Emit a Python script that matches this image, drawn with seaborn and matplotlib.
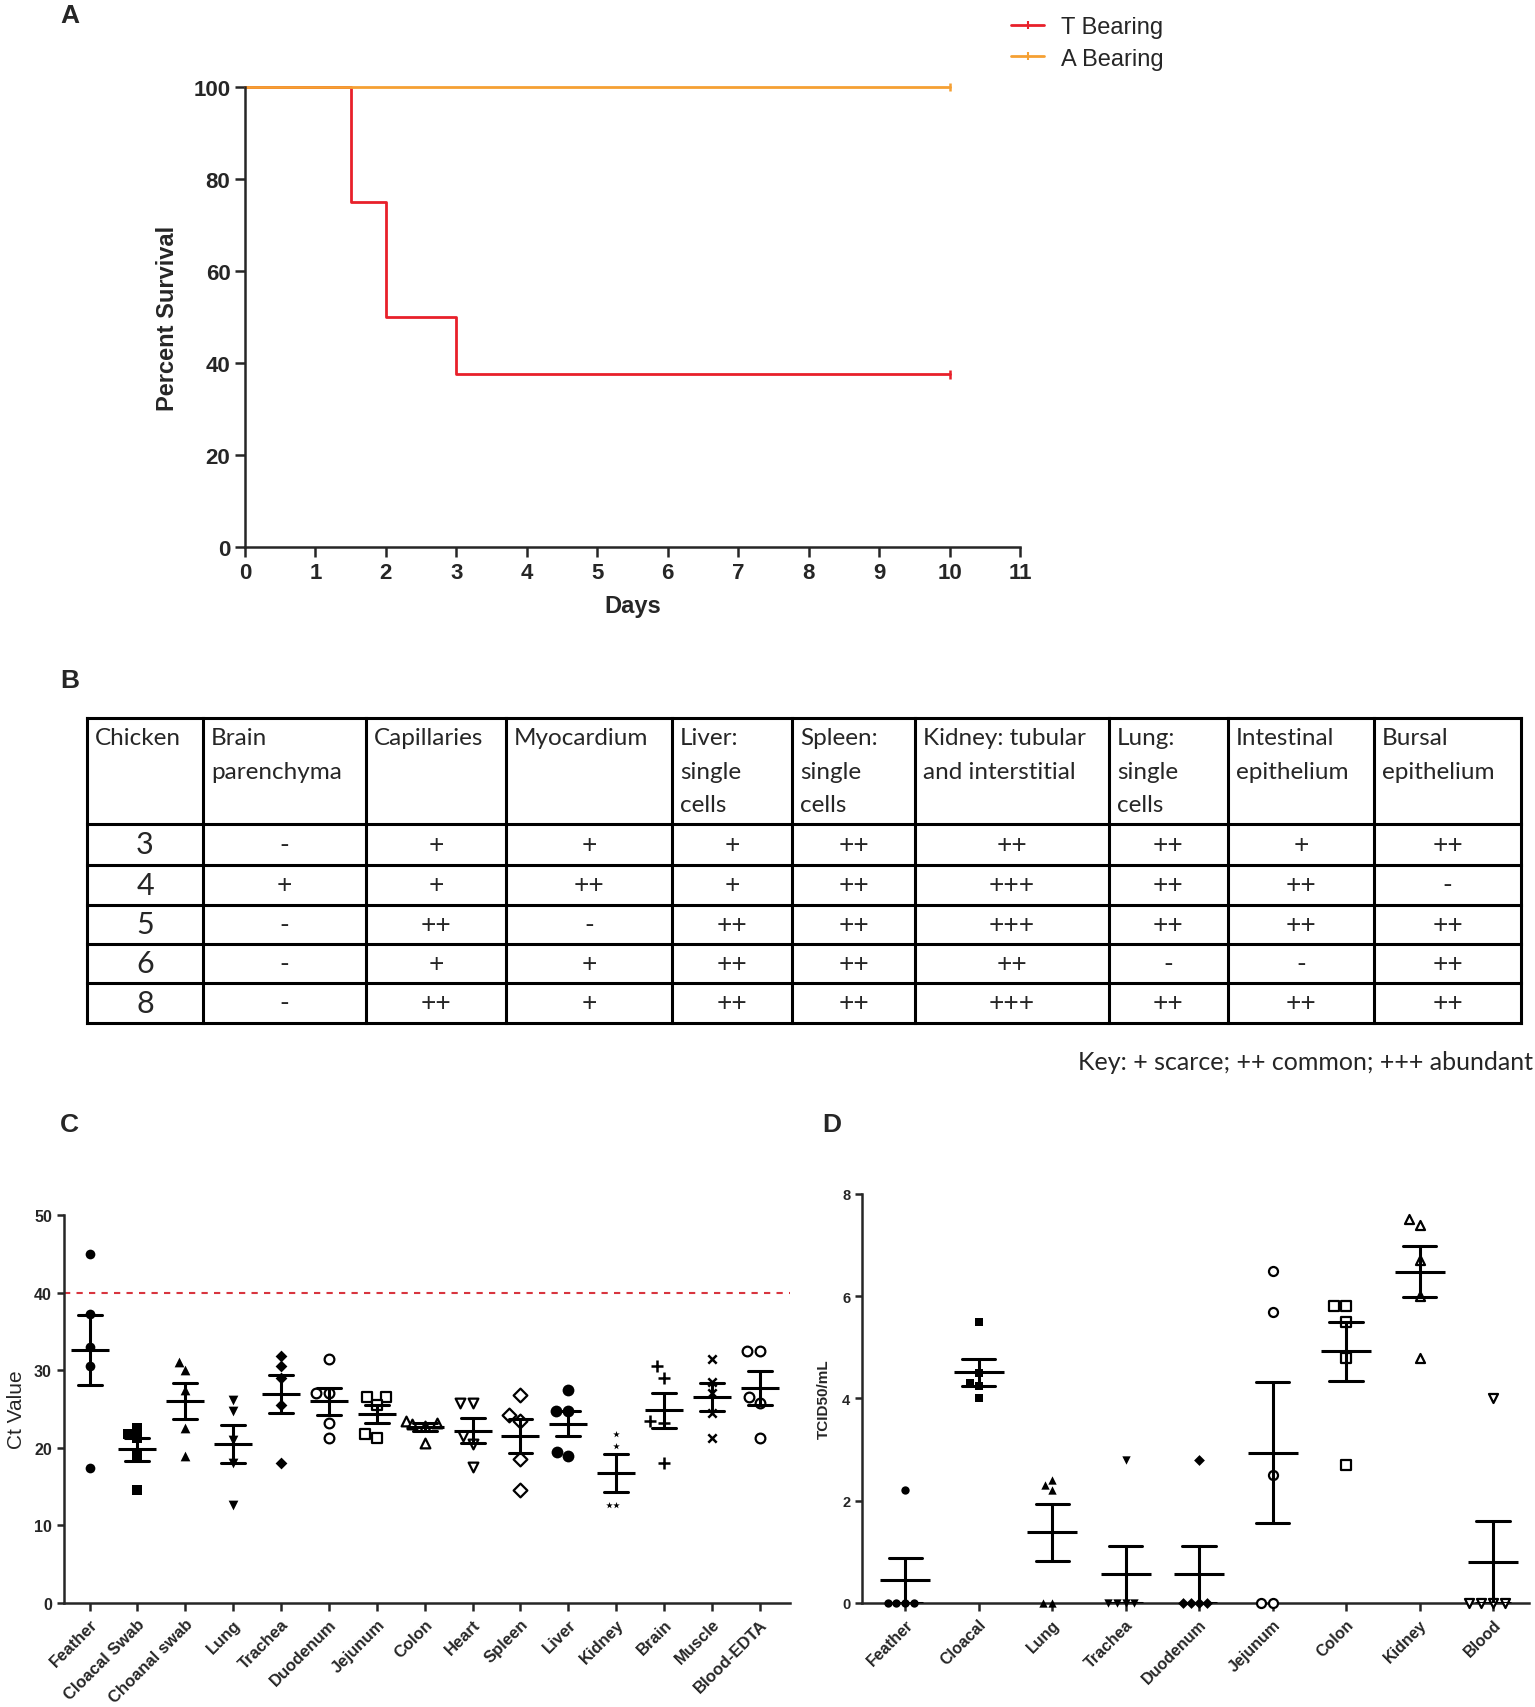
import matplotlib
matplotlib.use("Agg")
import matplotlib.pyplot as plt
from matplotlib.lines import Line2D
import seaborn as sns
import pandas as pd

# ---- Panel A: survival ----
t_days = [0, 1.5, 2, 3, 10]
t_surv = [100, 75, 50, 37.5, 37.5]
a_days = [0, 10]
a_surv = [100, 100]

# ---- Panel B: histology table ----
table_header = ["Chicken", "Brain\nparenchyma", "Capillaries", "Myocardium",
                "Liver:\nsingle\ncells", "Spleen:\nsingle\ncells",
                "Kidney: tubular\nand interstitial", "Lung:\nsingle\ncells",
                "Intestinal\nepithelium", "Bursal\nepithelium"]
chickens = ["3", "4", "5", "6", "8"]
table_rows = [
    ["-", "+", "+", "+", "++", "++", "++", "+", "++"],
    ["+", "+", "++", "+", "++", "+++", "++", "++", "-"],
    ["-", "++", "-", "++", "++", "+++", "++", "++", "++"],
    ["-", "+", "+", "++", "++", "++", "-", "-", "++"],
    ["-", "++", "+", "++", "++", "+++", "++", "++", "++"],
]

# ---- Panel C: Ct values ----
tissues_c = ["Feather", "Cloacal Swab", "Choanal swab", "Lung", "Trachea", "Duodenum",
             "Jejunum", "Colon", "Heart", "Spleen", "Liver", "Kidney", "Brain",
             "Muscle", "Blood-EDTA"]
ct_values = [
    [45.0, 37.2, 33.0, 30.5, 17.4],
    [22.5, 21.8, 21.2, 19.0, 14.5],
    [31.0, 30.0, 27.5, 22.5, 19.0],
    [26.2, 24.8, 21.0, 18.0, 12.6],
    [31.8, 30.5, 29.0, 25.5, 18.0],
    [31.5, 27.0, 27.0, 23.2, 21.2],
    [26.5, 26.5, 25.5, 21.8, 21.2],
    [23.5, 23.2, 23.0, 22.8, 20.6],
    [25.8, 25.8, 21.5, 20.5, 17.5],
    [26.8, 24.2, 23.5, 18.5, 14.6],
    [27.5, 24.8, 24.8, 19.5, 19.0],
    [21.8, 20.2, 12.6, 12.6],
    [30.5, 29.0, 23.5, 23.2, 18.0],
    [31.5, 28.5, 27.0, 24.5, 21.2],
    [32.5, 32.5, 26.5, 25.8, 21.2],
]
ct_cutoff = 40

# ---- Panel D: TCID50 ----
tissues_d = ["Feather", "Cloacal", "Lung", "Trachea", "Duodenum", "Jejunum",
             "Colon", "Kidney", "Blood"]
tcid_values = [
    [2.2, 0, 0, 0, 0],
    [5.5, 4.5, 4.3, 4.25, 4.0],
    [2.4, 2.3, 2.2, 0, 0],
    [2.8, 0, 0, 0, 0],
    [2.8, 0, 0, 0, 0],
    [6.5, 5.7, 2.5, 0, 0],
    [5.8, 5.8, 5.5, 4.8, 2.7],
    [7.5, 7.4, 6.7, 6.0, 4.8],
    [4.0, 0, 0, 0, 0],
]

# marker styles: (marker, filled, size)
markers_c = [("o", True, 7), ("s", True, 7), ("^", True, 7), ("v", True, 7),
             ("D", True, 6), ("o", False, 7), ("s", False, 7), ("^", False, 7),
             ("v", False, 7), ("D", False, 7), ("o", True, 8.5), ("*", True, 5),
             ("+", True, 8), ("x", True, 6), ("o", False, 7)]
markers_d = [("o", True, 6), ("s", True, 6), ("^", True, 6), ("v", True, 6),
             ("D", True, 5.5), ("o", False, 6.5), ("s", False, 6.5), ("^", False, 6.5),
             ("v", False, 6.5)]

sns.set_theme(style="ticks")
plt.rcParams["font.family"] = ["Liberation Sans", "DejaVu Sans"]

fig = plt.figure(figsize=(15.35, 17.08), dpi=100)

# full-figure overlay in pixel coordinates for table and labels
ax_bg = fig.add_axes([0, 0, 1, 1], zorder=0)
ax_bg.set_xlim(0, 1535)
ax_bg.set_ylim(1708, 0)
ax_bg.axis("off")
ax_bg.patch.set_alpha(0)

# ---------- A ----------
ax_a = fig.add_axes([0.1596, 0.6792, 0.5049, 0.2693])
surv_df = pd.DataFrame({
    "day": t_days + a_days,
    "surv": t_surv + a_surv,
    "group": ["T Bearing"] * len(t_days) + ["A Bearing"] * len(a_days),
})
pal_a = {"T Bearing": "#e8202a", "A Bearing": "#f5a033"}
sns.lineplot(data=surv_df, x="day", y="surv", hue="group", palette=pal_a,
             drawstyle="steps-post", estimator=None, legend=False,
             linewidth=2, clip_on=False, ax=ax_a)
cens = surv_df.groupby("group").tail(1)
sns.scatterplot(data=cens, x="day", y="surv", hue="group", palette=pal_a,
                marker="|", s=40, linewidth=1.8, legend=False, clip_on=False, ax=ax_a)
ax_a.set_xlim(0, 11)
ax_a.set_ylim(0, 100)
ax_a.set_xticks(range(0, 12))
ax_a.set_yticks(range(0, 101, 20))
ax_a.set_xlabel("Days", fontsize=17, fontweight="bold", labelpad=8)
ax_a.set_ylabel("Percent Survival", fontsize=17, fontweight="bold", labelpad=10)
ax_a.tick_params(labelsize=16, width=1.8, length=7)
for lab in ax_a.get_xticklabels() + ax_a.get_yticklabels():
    lab.set_fontweight("bold")
for s in ["left", "bottom"]:
    ax_a.spines[s].set_linewidth(1.8)
sns.despine(ax=ax_a)
handles = [Line2D([0], [0], color=pal_a[g], lw=2, marker="|", markersize=6, markeredgewidth=1.5)
           for g in ["T Bearing", "A Bearing"]]
fig.legend(handles, ["T Bearing", "A Bearing"], loc="upper left",
           bbox_to_anchor=(990 / 1535, 1 + 4 / 1708), frameon=False, fontsize=17,
           handlelength=1.4, handletextpad=0.7, labelspacing=0.4)

# ---------- B (table) ----------
col_edges = [87, 203, 366, 506, 672, 792, 915, 1109, 1228, 1374, 1521]
row_edges = [719, 825, 866, 906, 945, 984, 1024]
tab_font = ["Lato", "DejaVu Sans"]
for x in col_edges:
    ax_bg.plot([x, x], [row_edges[0], row_edges[-1]], color="black", lw=2.2,
               solid_capstyle="projecting")
for y in row_edges:
    ax_bg.plot([col_edges[0], col_edges[-1]], [y, y], color="black", lw=2.2,
               solid_capstyle="projecting")
for j, h in enumerate(table_header):
    ax_bg.text(col_edges[j] + 8, row_edges[0] + 9, h, ha="left", va="top",
               fontsize=17.5, family=tab_font, linespacing=1.75)
for i, (ck, row) in enumerate(zip(chickens, table_rows)):
    yc = (row_edges[i + 1] + row_edges[i + 2]) / 2
    ax_bg.text((col_edges[0] + col_edges[1]) / 2, yc, ck, ha="center", va="center",
               fontsize=22, family=tab_font)
    for j, v in enumerate(row):
        ax_bg.text((col_edges[j + 1] + col_edges[j + 2]) / 2, yc, v, ha="center",
                   va="center", fontsize=19, family=tab_font)
ax_bg.text(1533, 1063, "Key: + scarce; ++ common; +++ abundant", ha="right",
           va="center", fontsize=18, family=tab_font)

# panel letters
for lab, (px, py) in {"A": (60, 16), "B": (60, 681), "C": (60, 1125), "D": (822, 1125)}.items():
    ax_bg.text(px, py, lab, ha="left", va="center", fontsize=19, fontweight="bold")


def dot_panel(ax, cats, values, mstyles, capsize, mwidth, lw_err):
    df = pd.DataFrame({"cat": [c for c, v in zip(cats, values) for _ in v],
                       "val": [x for v in values for x in v]})
    for c, (m, filled, sz) in zip(cats, mstyles):
        sub = df[df["cat"] == c]
        if m in ("+", "x"):
            sns.swarmplot(data=sub, x="cat", y="val", order=cats, marker=m, color="black",
                          linewidth=1.8, size=sz, ax=ax, zorder=3)
        elif filled:
            sns.swarmplot(data=sub, x="cat", y="val", order=cats, marker=m, color="black",
                          edgecolor="black", linewidth=0, size=sz, ax=ax, zorder=3)
        else:
            sns.swarmplot(data=sub, x="cat", y="val", order=cats, marker=m, color="white",
                          edgecolor="black", linewidth=1.6, size=sz, ax=ax, zorder=3)
    for coll in ax.collections:
        coll.set_clip_on(False)
    sns.pointplot(data=df, x="cat", y="val", order=cats, errorbar="se", capsize=capsize,
                  color="black", linestyle="none", marker="_", markersize=mwidth,
                  markeredgewidth=lw_err, err_kws={"linewidth": lw_err}, ax=ax, zorder=4)
    ax.set_xlabel("")
    ax.tick_params(axis="x", rotation=45, length=6, width=1.8)
    ax.tick_params(axis="y", length=5, width=1.8)
    for lab in ax.get_xticklabels():
        lab.set_ha("right")
        lab.set_rotation_mode("anchor")
        lab.set_fontweight("bold")
    for lab in ax.get_yticklabels():
        lab.set_fontweight("bold")
    for s in ["left", "bottom"]:
        ax.spines[s].set_linewidth(1.8)
    sns.despine(ax=ax)


# ---------- C ----------
ax_c = fig.add_axes([0.0415, 0.0609, 0.4732, 0.2272])
dot_panel(ax_c, tissues_c, ct_values, markers_c, 0.5, 27, 2.2)
ax_c.axhline(ct_cutoff, color="#d8353f", linestyle=(0, (3, 3)), linewidth=1.5, zorder=1)
ax_c.set_xlim(-0.54, 14.63)
ax_c.set_ylim(0, 50)
ax_c.set_yticks(range(0, 51, 10))
ax_c.set_ylabel("Ct Value", fontsize=15, labelpad=6)
ax_c.tick_params(axis="y", labelsize=11.5)
ax_c.tick_params(axis="x", labelsize=12)

# ---------- D ----------
ax_d = fig.add_axes([0.5616, 0.0609, 0.4345, 0.2395])
dot_panel(ax_d, tissues_d, tcid_values, markers_d, 0.45, 36, 2.2)
ax_d.set_xlim(-0.585, 8.49)
ax_d.set_ylim(0, 8)
ax_d.set_yticks(range(0, 9, 2))
ax_d.set_ylabel("TCID50/mL", fontsize=11, fontweight="bold", labelpad=8)
ax_d.tick_params(axis="y", labelsize=10.5)
ax_d.tick_params(axis="x", labelsize=11.5)

fig.savefig("out.png", dpi=100)
